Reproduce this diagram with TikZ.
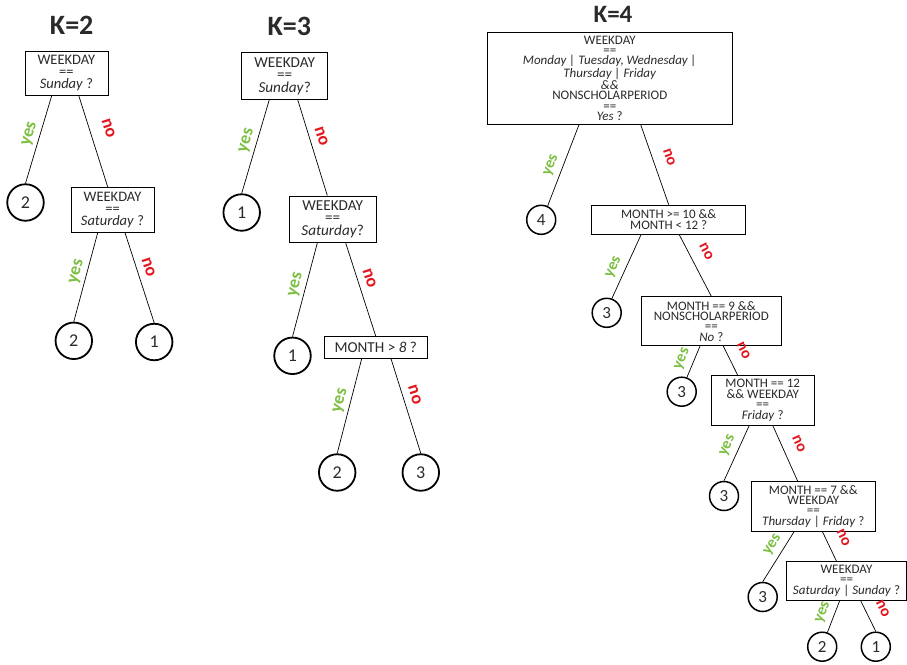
\documentclass[tikz,border=0pt]{standalone}
\usepackage{fontspec}
\setmainfont{Carlito}
\definecolor{yescol}{HTML}{7CBF42}
\definecolor{nocol}{HTML}{E3161E}
\definecolor{txt}{HTML}{2A2A2A}

\tikzset{
  titl/.style={text=txt, font=\bfseries\fontsize{28}{28}\selectfont, inner sep=0pt},
  condA/.style={draw=black, line width=0.8pt, inner sep=0pt, align=center, text=txt,
    font=\fontsize{14.5}{11.8}\selectfont},
  condB/.style={condA, font=\fontsize{15.2}{12.4}\selectfont},
  condC/.style={condA, font=\fontsize{13}{10.4}\selectfont},
  leafA/.style={circle, draw=black, line width=1.8pt, minimum size=36.5pt, inner sep=0pt,
    text=txt, font=\fontsize{18}{18}\selectfont},
  leafC/.style={leafA, line width=1.5pt, minimum size=29pt, font=\fontsize{17}{17}\selectfont},
  edge/.style={draw=black, line width=0.7pt},
  yeslbl/.style={sloped, above=2.5pt, pos=0.47, inner sep=1pt, text=yescol,
    font=\bfseries\fontsize{18}{18}\selectfont},
  nolbl/.style={sloped, above=6pt, pos=0.42, inner sep=1pt, text=nocol,
    font=\bfseries\fontsize{18}{18}\selectfont},
  yesC/.style={yeslbl, above=2pt, font=\bfseries\fontsize{16}{16}\selectfont},
  noC/.style={nolbl, above=5pt, font=\bfseries\fontsize{16}{16}\selectfont},
}

\begin{document}
\begin{tikzpicture}[x=1pt, y=-1pt]
\useasboundingbox (0,0) rectangle (907,664);

% ---------- K=2 ----------
\node[titl] (t2) at (71.7,25.8) {K=2};
\node[condA, minimum width=83, minimum height=44.7] (a1) at (66.4,73.3) {WEEKDAY\\==\\\textit{Sunday} ?};
\node[condA, minimum width=83, minimum height=45] (a2) at (112.5,209.8) {WEEKDAY\\==\\\textit{Saturday} ?};
\node[leafA] (a3) at (25.5,202.5) {2};
\node[leafA] (a4) at (73.8,340.8) {2};
\node[leafA] (a5) at (154.2,342) {1};

\draw[edge] ([xshift=-14.8]a1.south) -- node[yeslbl]{yes} (a3.north);
\draw[edge] ([xshift=12.5]a1.south) -- node[nolbl, above=6.5pt]{no} ([xshift=-4.8]a2.north);
\draw[edge] ([xshift=-14.8]a2.south) -- node[yeslbl]{yes} (a4.north);
\draw[edge] ([xshift=12.5]a2.south) -- node[nolbl]{no} (a5.north);

% ---------- K=3 ----------
\node[titl] (t3) at (289.3,26) {K=3};
\node[condB, minimum width=86, minimum height=46.6] (b1) at (284.7,76) {WEEKDAY\\==\\\textit{Sunday}?};
\node[condB, minimum width=86.7, minimum height=46.7] (b2) at (332.7,219.3) {WEEKDAY\\==\\\textit{Saturday}?};
\node[condB, minimum width=103, minimum height=21.6] (b3) at (375.8,347.5) {MONTH > \textit{8} ?};
\node[leafA] (k1) at (241.7,212.5) {1};
\node[leafA] (k2) at (292.5,355.8) {1};
\node[leafA] (k3) at (337.2,472.5) {2};
\node[leafA] (k4) at (420.8,472.5) {3};

\draw[edge] ([xshift=-15.4]b1.south) -- node[yeslbl]{yes} (k1.north);
\draw[edge] ([xshift=13]b1.south) -- node[nolbl]{no} ([xshift=-5.4]b2.north);
\draw[edge] ([xshift=-15.4]b2.south) -- node[yeslbl]{yes} (k2.north);
\draw[edge] ([xshift=13]b2.south) -- node[nolbl]{no} (b3.north);
\draw[edge] ([xshift=-14.1]b3.south) -- node[yeslbl]{yes} (k3.north);
\draw[edge] ([xshift=15.2]b3.south) -- node[nolbl]{no} (k4.north);

% ---------- K=4 ----------
\node[titl, font=\bfseries\fontsize{25}{25}\selectfont] (t4) at (613,14) {K=4};
\node[condC, minimum width=245, minimum height=92] (c1) at (609.8,78.3)
  {WEEKDAY\\==\\\textit{Monday | Tuesday, Wednesday |}\\\textit{Thursday | Friday}\\\textit{\&\&}\\NONSCHOLARPERIOD\\==\\\textit{Yes} ?};
\node[condC, minimum width=154, minimum height=29.3] (c2) at (668.7,219.7) {MONTH >= 10 \&\&\\MONTH < 12 ?};
\node[condC, minimum width=139.3, minimum height=49] (c3) at (711.3,321.2) {MONTH == 9 \&\&\\NONSCHOLARPERIOD\\==\\\textit{No} ?};
\node[condC, minimum width=103.3, minimum height=49.3] (c4) at (762.7,400.3) {MONTH == 12\\\&\& WEEKDAY\\==\\\textit{Friday} ?};
\node[condC, minimum width=124.7, minimum height=49.3] (c5) at (813.3,506.3) {MONTH == 7 \&\&\\WEEKDAY\\==\\\textit{Thursday} | \textit{Friday} ?};
\node[condC, minimum width=119.5, minimum height=38.3] (c6) at (846.5,580.8) {WEEKDAY\\==\\\textit{Saturday} | \textit{Sunday} ?};
\node[leafC] (m1) at (541.2,219.8) {4};
\node[leafC] (m2) at (606.7,312.8) {3};
\node[leafC] (m3) at (681.7,391.7) {3};
\node[leafC] (m4) at (724,496) {3};
\node[leafC] (m5) at (762.7,597) {3};
\node[leafC] (m6) at (822.2,646.7) {2};
\node[leafC] (m7) at (875.8,646.7) {1};

\draw[edge] ([xshift=-30.8]c1.south) -- node[yesC, pos=0.55]{yes} (m1.65);
\draw[edge] ([xshift=30.9]c1.south) -- node[noC, pos=0.47]{no} (c2.north);
\draw[edge] ([xshift=-27.7]c2.south) -- node[yesC, pos=0.58]{yes} (m2.70);
\draw[edge] ([xshift=10.6]c2.south) -- node[noC, pos=0.39]{no} (c3.north);
\draw[edge] ([xshift=-11.3]c3.south) -- node[yesC, pos=0.55]{yes} (m3.70);
\draw[edge] ([xshift=12]c3.south) -- node[noC, pos=0.4]{no} ([xshift=-25]c4.north);
\draw[edge] ([xshift=-13.4]c4.south) -- node[yesC, pos=0.45]{yes} (m4.north);
\draw[edge] ([xshift=10]c4.south) -- node[noC, pos=0.45]{no} ([xshift=-15.6]c5.north);
\draw[edge] ([xshift=-19]c5.south) -- node[yesC, pos=0.38]{yes} (m5.north);
\draw[edge] ([xshift=9]c5.south) -- node[noC, pos=0.45]{no} ([xshift=-10]c6.north);
\draw[edge] ([xshift=-6.7]c6.south) -- node[yesC, pos=0.5]{yes} (m6.70);
\draw[edge] ([xshift=14]c6.south) -- node[noC, pos=0.5]{no} (m7.north);
\end{tikzpicture}
\end{document}
